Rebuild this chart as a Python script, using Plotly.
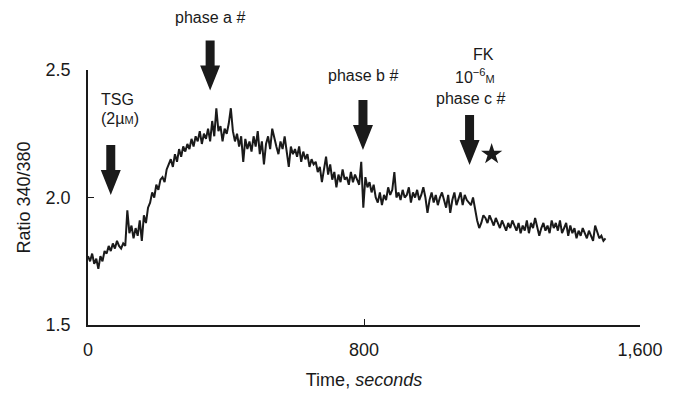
import plotly.graph_objects as go

# ---------------- data ----------------
t_step = 6
ratio = [
    1.77, 1.75, 1.78, 1.74, 1.76, 1.72, 1.77, 1.75, 1.79, 1.78,
    1.81, 1.79, 1.82, 1.80, 1.83, 1.81, 1.80, 1.82, 1.81, 1.95,
    1.86, 1.89, 1.84, 1.88, 1.85, 1.91, 1.83, 1.93, 1.90, 1.96,
    1.98, 2.02, 2.00, 2.05, 2.03, 2.07, 2.08, 2.06, 2.11, 2.13,
    2.15, 2.12, 2.17, 2.14, 2.19, 2.16, 2.20, 2.18, 2.21, 2.19,
    2.23, 2.20, 2.24, 2.22, 2.26, 2.21, 2.25, 2.23, 2.27, 2.22,
    2.30, 2.24, 2.35, 2.26, 2.28, 2.22, 2.27, 2.25, 2.29, 2.35,
    2.26, 2.22, 2.25, 2.20, 2.24, 2.14, 2.23, 2.19, 2.22, 2.18,
    2.24, 2.20, 2.26, 2.17, 2.22, 2.13, 2.21, 2.24, 2.19, 2.27,
    2.23, 2.20, 2.17, 2.22, 2.19, 2.24, 2.18, 2.12, 2.20, 2.17,
    2.19, 2.16, 2.20, 2.14, 2.18, 2.15, 2.17, 2.12, 2.15, 2.13,
    2.14, 2.10, 2.12, 2.06, 2.11, 2.16, 2.09, 2.13, 2.07, 2.10,
    2.04, 2.09, 2.06, 2.11, 2.07, 2.08, 2.05, 2.10, 2.06, 2.09,
    2.07, 2.05, 2.14, 1.96, 2.08, 2.04, 2.06, 2.02, 2.05, 2.00,
    1.98, 2.02, 1.97, 2.01, 1.99, 2.04, 2.01, 2.03, 2.10, 2.00,
    2.02, 1.99, 2.03, 2.00, 2.01, 2.04, 1.98, 2.02, 2.00, 2.03,
    1.99, 2.01, 2.04, 2.00, 1.94, 1.99, 2.02, 1.98, 2.01, 1.97,
    2.00, 2.02, 1.99, 1.96, 2.01, 1.94, 1.99, 2.02, 1.97, 2.00,
    2.02, 1.97, 2.01, 1.99, 1.98, 1.97, 2.00, 1.95, 1.91, 1.88,
    1.90, 1.93, 1.92, 1.90, 1.93, 1.91, 1.89, 1.92, 1.90, 1.88,
    1.91, 1.89, 1.87, 1.90, 1.88, 1.91, 1.89, 1.87, 1.90, 1.86,
    1.89, 1.87, 1.91, 1.86, 1.90, 1.88, 1.92, 1.89, 1.85, 1.88,
    1.90, 1.87, 1.89, 1.86, 1.91, 1.88, 1.90, 1.87, 1.91, 1.86,
    1.88, 1.90, 1.85, 1.89, 1.86, 1.88, 1.84, 1.87, 1.85, 1.88,
    1.86, 1.84, 1.87, 1.85, 1.83, 1.89, 1.86, 1.84, 1.85, 1.83,
    1.84,
]
time_s = [i * t_step for i in range(len(ratio))]

x_tickvals = [0, 800, 1600]
x_ticktext = ["0", "800", "1,600"]
y_tickvals = [1.5, 2.0, 2.5]
y_ticktext = ["1.5", "2.0", "2.5"]

x_range = [0, 1600]
y_range = [1.5, 2.5]

# event arrows: time, ratio at arrow tip
arrow_times = [66, 354, 797, 1106]
arrow_tips = [2.01, 2.42, 2.186, 2.127]
label_texts = [
    "TSG",
    "(2µ<span style='font-size:11px'>M</span>)",
    "phase a #",
    "phase b #",
    "FK",
    "10<sup>−6</sup><span style='font-size:11px'>M</span>",
    "phase c #",
]
label_x_data = [86, 93, 354, 797, 1146, 1122, 1110]
label_y_data = [2.385, 2.31, 2.705, 2.48, 2.56, 2.475, 2.39]
star_time = [1170]
star_value = [2.17]

# ---------------- figure ----------------
fig = go.Figure()
fig.add_trace(go.Scatter(
    x=time_s, y=ratio, mode="lines",
    line=dict(color="#1a1a1a", width=2.0),
    hoverinfo="skip", showlegend=False,
))
fig.add_trace(go.Scatter(
    x=star_time, y=star_value, mode="markers",
    marker=dict(symbol="star", size=16, color="#1a1a1a", line=dict(width=0)),
    showlegend=False, cliponaxis=False,
))

def xp(t):
    return (t - x_range[0]) / (x_range[1] - x_range[0])

def yp(v):
    return (v - y_range[0]) / (y_range[1] - y_range[0])

arrow_path = "M 0,0 L -10,25 L -4.5,25 L -4.5,50 L 4.5,50 L 4.5,25 L 10,25 Z"
for t, v in zip(arrow_times, arrow_tips):
    fig.add_shape(
        type="path", path=arrow_path,
        xref="paper", yref="paper",
        xsizemode="pixel", ysizemode="pixel",
        xanchor=xp(t), yanchor=yp(v),
        fillcolor="#1a1a1a", line=dict(width=0), layer="above",
    )

label_font = dict(family="Liberation Sans, Arial, sans-serif", size=16, color="#1a1a1a")
for txt, tx, ty in zip(label_texts, label_x_data, label_y_data):
    fig.add_annotation(
        x=xp(tx), y=yp(ty), xref="paper", yref="paper",
        text=txt, showarrow=False, xanchor="center", yanchor="middle",
        font=label_font,
    )

axis_font = dict(family="Liberation Sans, Arial, sans-serif", size=18, color="#1a1a1a")
fig.update_xaxes(
    range=x_range, tickvals=x_tickvals, ticktext=x_ticktext,
    showline=True, linecolor="#1a1a1a", linewidth=1.5, mirror=False,
    ticks="inside", ticklen=6, tickwidth=1.2, tickcolor="#1a1a1a",
    showgrid=False, zeroline=False, tickfont=axis_font,
    ticklabelstandoff=8,
    title=dict(text="Time, <i>seconds</i>", font=axis_font, standoff=14),
)
fig.update_yaxes(
    range=y_range, tickvals=y_tickvals, ticktext=y_ticktext,
    showline=True, linecolor="#1a1a1a", linewidth=1.5, mirror=False,
    ticks="inside", ticklen=6, tickwidth=1.2, tickcolor="#1a1a1a",
    showgrid=False, zeroline=False, tickfont=axis_font,
    ticklabelstandoff=12,
    title=dict(text="Ratio 340/380", font=axis_font, standoff=10),
)
fig.update_layout(
    width=675, height=399,
    margin=dict(l=88, r=27, t=70, b=74, pad=0),
    paper_bgcolor="white", plot_bgcolor="white",
    font=axis_font,
)
fig.write_html("out.html")
